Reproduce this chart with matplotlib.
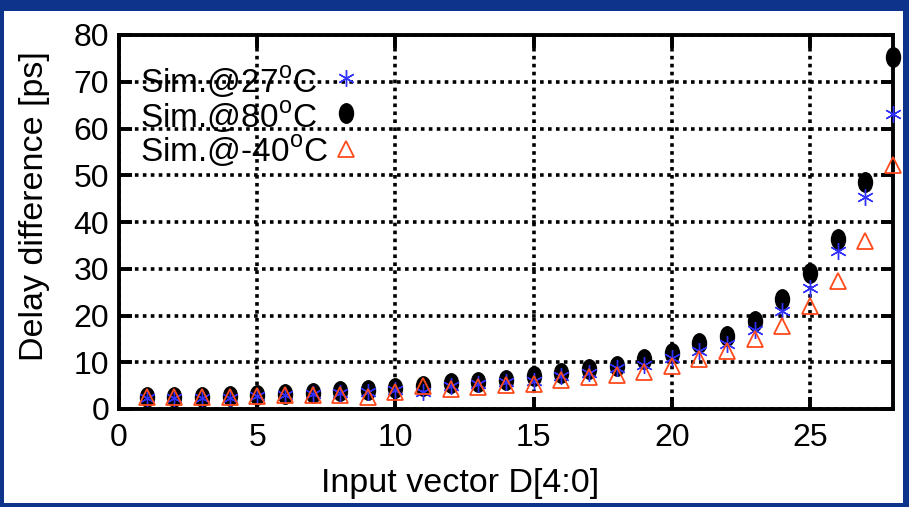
import matplotlib
matplotlib.use("Agg")
import matplotlib.pyplot as plt
from matplotlib.path import Path
from matplotlib.patches import Rectangle
import matplotlib.transforms as mtrans

plt.rcParams['font.family'] = ['Liberation Sans', 'DejaVu Sans']
plt.rcParams['mathtext.fontset'] = 'custom'
plt.rcParams['mathtext.rm'] = 'Liberation Sans'

x_vals = list(range(1, 29))
sim_27 = [2.3, 2.3, 2.3, 2.4, 2.8, 3.0, 3.3, 3.5, 3.6, 4.0, 3.6, 5.0, 5.3, 5.7,
          6.0, 7.0, 7.8, 8.8, 9.5, 10.9, 12.3, 13.8, 17.0, 21.0, 25.8, 33.9, 45.4, 63.0]
sim_80 = [2.6, 2.6, 2.6, 2.7, 3.1, 3.2, 3.5, 3.8, 4.1, 4.5, 4.9, 5.6, 5.8, 6.3,
          7.0, 7.6, 8.5, 9.1, 10.7, 12.0, 14.2, 15.6, 18.8, 23.6, 29.0, 36.4, 48.6, 75.4]
sim_m40 = [2.5, 2.5, 2.5, 2.5, 2.8, 2.9, 3.0, 3.0, 2.5, 3.6, 4.9, 4.3, 4.7, 5.2,
           5.4, 6.1, 6.9, 7.3, 8.0, 9.3, 10.7, 12.3, 14.9, 17.7, 22.0, 27.4, 36.0, 52.1]
labels = ['Sim.@27$^{\\rm o}$C', 'Sim.@80$^{\\rm o}$C', 'Sim.@-40$^{\\rm o}$C']
x_ticks = [0, 5, 10, 15, 20, 25]
y_ticks = [0, 10, 20, 30, 40, 50, 60, 70, 80]

fig = plt.figure(figsize=(9.09, 5.07), dpi=100)
fig.patch.set_facecolor('#0D338A')
fig.add_artist(Rectangle((4 / 909, 1 - 503 / 507), 899 / 909, 492 / 507,
                         transform=fig.transFigure, facecolor='white',
                         edgecolor='none', zorder=0))

ax = fig.add_axes([119 / 909, 98 / 507, 774 / 909, 374 / 507])
ax.set_facecolor('white')

ellipse = Path.unit_circle().transformed(mtrans.Affine2D().scale(0.72, 1.0))

h80, = ax.plot(x_vals, sim_80, linestyle='none', marker=ellipse, markersize=14,
               color='black', zorder=3, clip_on=False)
h27, = ax.plot(x_vals, sim_27, linestyle='none', marker=(6, 2, 0), markersize=12,
               color='#3030FF', markeredgewidth=1.0, zorder=4, clip_on=False)
hm40, = ax.plot(x_vals, sim_m40, linestyle='none', marker='^', markersize=11,
                markerfacecolor='none', markeredgecolor='#FF4A1C',
                markeredgewidth=1.3, zorder=5, clip_on=False)

ax.set_xlim(0, 28)
ax.set_ylim(0, 80)
ax.set_xticks(x_ticks)
ax.set_yticks(y_ticks)
ax.grid(True, color='black', linestyle=(0, (1, 1.2)), linewidth=2.6)
ax.set_axisbelow(True)
for s in ax.spines.values():
    s.set_linewidth(2.8)
ax.tick_params(direction='in', length=9, width=2.8, top=True, right=True,
               labelsize=23, pad=7)
ax.tick_params(axis='x', pad=10)
ax.set_xlabel('Input vector D[4:0]', fontsize=24.5)
ax.set_ylabel('Delay difference [ps]', fontsize=24.5)
ax.xaxis.set_label_coords((460 - 119) / 774, (409 - 468) / 374)
ax.yaxis.set_label_coords((50 - 119) / 774, (409 - 206) / 374)

# legend: markers via legend handles, labels as left-aligned texts
handles = [h27, h80, hm40]
leg = ax.legend(handles, [''] * 3, loc='upper left', frameon=False,
                bbox_to_anchor=((338 - 119 - 14) / 774, (409 - 66) / 374),
                handlelength=1.4, handletextpad=0.0, labelspacing=0.17,
                fontsize=23, borderaxespad=0.0, borderpad=0.0)
leg.set_zorder(6)
row_y = [78, 113, 147]
for lab, yy in zip(labels, row_y):
    ax.text((140 - 119) / 774, (409 - yy) / 374, lab, transform=ax.transAxes,
            fontsize=24, ha='left', va='center_baseline', zorder=6)

fig.savefig('out.png', dpi=100, facecolor=fig.get_facecolor())
